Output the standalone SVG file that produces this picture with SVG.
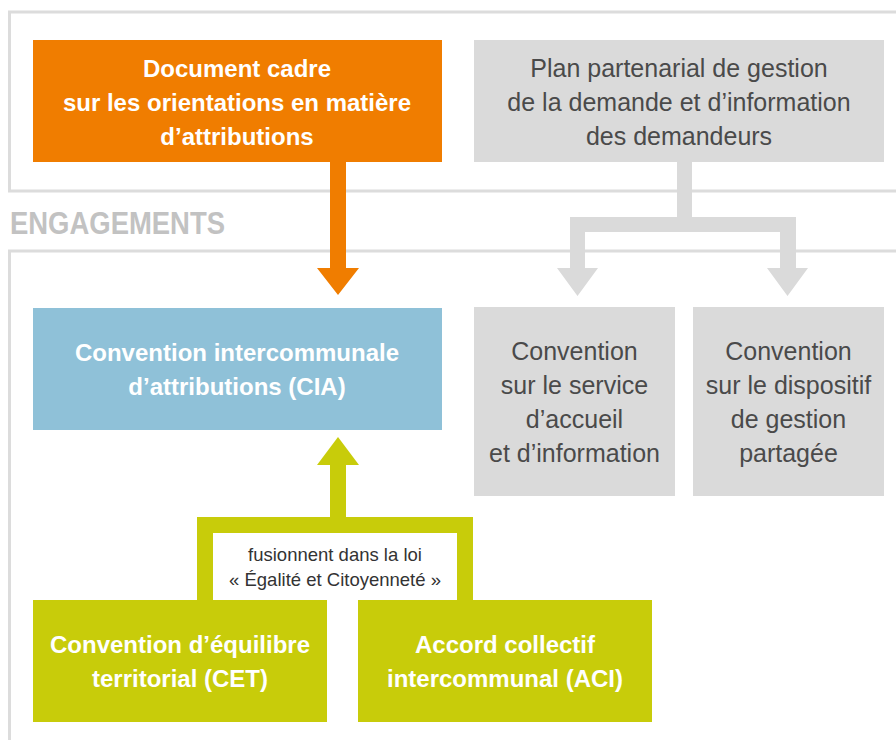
<svg xmlns="http://www.w3.org/2000/svg" width="896" height="740" viewBox="0 0 896 740">
<style>
.frame{fill:none;stroke:#dcdcdc;stroke-width:3}
.t{font-family:"Liberation Sans",Arial,sans-serif;text-anchor:middle}
.w{fill:#ffffff;font-weight:bold;font-size:24px}
.g{fill:#4a4a4a;font-size:25px}
.small{font-family:"Liberation Sans",Arial,sans-serif;font-size:18.5px;fill:#333333;text-anchor:middle}
.head{font-family:"Liberation Sans",Arial,sans-serif;font-size:32px;font-weight:bold;fill:#c2c2c2}
</style>
<rect width="896" height="740" fill="#ffffff"/>
<g id="frames">
<path class="frame" d="M900 12 H9.5 V191 H900"/>
<path class="frame" d="M900 251 H9.5 V745"/>
<text class="head" x="10" y="234" textLength="215" lengthAdjust="spacingAndGlyphs">ENGAGEMENTS</text>
</g>
<g id="connectors">
<path fill="#f07d00" d="M330 162 H346 V268 H359 L338 295 L317 268 H330 Z"/>
<path fill="#dadada" d="M677 162 H692 V217 H796 V268 H808 L787.5 296 L767 268 H780 V232 H585 V268 H598 L577.5 296 L557 268 H570 V217 H677 Z"/>
<path fill="#c8cc0a" d="M338 437 L359 465 H346 V517 H473 V600 H457 V533 H213 V600 H197 V517 H330 V465 H317 Z"/>
</g>
<g id="doc-cadre">
<rect x="33" y="40" width="409" height="122" fill="#f07d00"/>
<text class="t w" x="237" y="77">Document cadre</text>
<text class="t w" x="237" y="111">sur les orientations en matière</text>
<text class="t w" x="237" y="145">d’attributions</text>
</g>
<g id="plan-partenarial">
<rect x="474" y="40" width="410" height="122" fill="#dadada"/>
<text class="t g" x="679" y="77">Plan partenarial de gestion</text>
<text class="t g" x="679" y="111">de la demande et d’information</text>
<text class="t g" x="679" y="145">des demandeurs</text>
</g>
<g id="cia">
<rect x="33" y="308" width="409" height="122" fill="#8fc1d8"/>
<text class="t w" x="237" y="361">Convention intercommunale</text>
<text class="t w" x="237" y="395">d’attributions (CIA)</text>
</g>
<g id="conv-accueil">
<rect x="474" y="307" width="201" height="189" fill="#dadada"/>
<text class="t g" x="574.5" y="360">Convention</text>
<text class="t g" x="574.5" y="394">sur le service</text>
<text class="t g" x="574.5" y="428">d’accueil</text>
<text class="t g" x="574.5" y="462">et d’information</text>
</g>
<g id="conv-dispositif">
<rect x="693" y="307" width="191" height="189" fill="#dadada"/>
<text class="t g" x="788.5" y="360">Convention</text>
<text class="t g" x="788.5" y="394">sur le dispositif</text>
<text class="t g" x="788.5" y="428">de gestion</text>
<text class="t g" x="788.5" y="462">partagée</text>
</g>
<g id="label-loi">
<text class="small" x="335" y="561">fusionnent dans la loi</text>
<text class="small" x="335" y="586">« Égalité et Citoyenneté »</text>
</g>
<g id="cet">
<rect x="33" y="600" width="294" height="122" fill="#c8cc0a"/>
<text class="t w" x="180" y="653">Convention d’équilibre</text>
<text class="t w" x="180" y="687">territorial (CET)</text>
</g>
<g id="aci">
<rect x="358" y="600" width="294" height="122" fill="#c8cc0a"/>
<text class="t w" x="505" y="653">Accord collectif</text>
<text class="t w" x="505" y="687">intercommunal (ACI)</text>
</g>
</svg>
